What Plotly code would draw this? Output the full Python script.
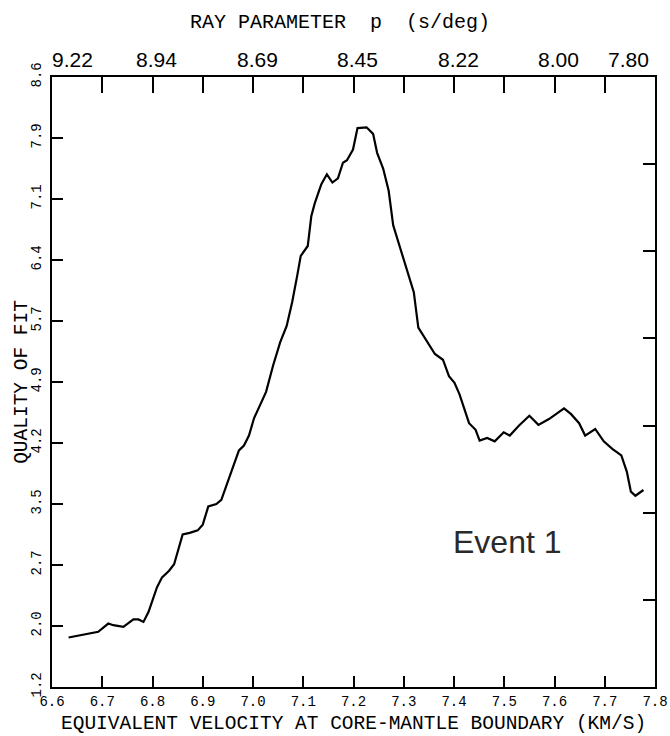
import plotly.graph_objects as go

# ---- data ----
velocity = [6.633, 6.649, 6.669, 6.692, 6.712, 6.722, 6.742, 6.762, 6.772, 6.782,
            6.792, 6.809, 6.819, 6.833, 6.843, 6.860, 6.874, 6.890, 6.900, 6.911,
            6.927, 6.937, 6.958, 6.972, 6.982, 6.992, 7.002, 7.012, 7.026, 7.040,
            7.054, 7.067, 7.078, 7.088, 7.095, 7.109, 7.116, 7.123, 7.136, 7.147,
            7.158, 7.169, 7.179, 7.187, 7.199, 7.208, 7.226, 7.239, 7.247, 7.259,
            7.270, 7.279, 7.295, 7.307, 7.320, 7.329, 7.346, 7.362, 7.378, 7.390,
            7.401, 7.411, 7.430, 7.443, 7.451, 7.466, 7.481, 7.499, 7.511, 7.529,
            7.550, 7.568, 7.589, 7.619, 7.633, 7.649, 7.661, 7.681, 7.698, 7.715,
            7.733, 7.744, 7.752, 7.761, 7.777]
quality = [1.80, 1.82, 1.84, 1.87, 1.97, 1.95, 1.93, 2.02, 2.02, 1.99,
           2.11, 2.41, 2.53, 2.61, 2.69, 3.05, 3.07, 3.10, 3.17, 3.39,
           3.42, 3.47, 3.83, 4.07, 4.13, 4.25, 4.46, 4.60, 4.78, 5.10,
           5.38, 5.58, 5.87, 6.19, 6.43, 6.55, 6.91, 7.07, 7.30, 7.42,
           7.32, 7.37, 7.56, 7.59, 7.72, 7.98, 7.99, 7.91, 7.68, 7.49,
           7.22, 6.80, 6.49, 6.23, 5.99, 5.56, 5.40, 5.24, 5.17, 4.97,
           4.89, 4.75, 4.40, 4.32, 4.19, 4.22, 4.18, 4.29, 4.25, 4.37,
           4.49, 4.38, 4.45, 4.58, 4.51, 4.40, 4.25, 4.33, 4.18, 4.09,
           4.01, 3.81, 3.57, 3.52, 3.59]

x_tick_vals = [6.6, 6.7, 6.8, 6.9, 7.0, 7.1, 7.2, 7.3, 7.4, 7.5, 7.6, 7.7, 7.8]
x_tick_text = ["6.6", "6.7", "6.8", "6.9", "7.0", "7.1", "7.2", "7.3", "7.4",
               "7.5", "7.6", "7.7", "7.8"]
x_inner_ticks = [6.7, 6.8, 6.9, 7.0, 7.1, 7.2, 7.3, 7.4, 7.5, 7.6, 7.7]

y_min, y_max = 1.2, 8.6
y_tick_text = ["1.2", "2.0", "2.7", "3.5", "4.2", "4.9", "5.7", "6.4", "7.1", "7.9", "8.6"]
y_tick_vals = [y_min + i * (y_max - y_min) / 10 for i in range(11)]

ray_param_pos = [6.6, 6.8, 7.0, 7.2, 7.4, 7.6, 7.8]
ray_param_text = ["9.22", "8.94", "8.69", "8.45", "8.22", "8.00", "7.80"]

right_ticks = [1, 2, 3, 4, 5, 6]

MONO = "Liberation Mono, DejaVu Sans Mono, monospace"
SANS = "Liberation Sans, Arial, sans-serif"

fig = go.Figure()
fig.add_trace(go.Scatter(x=velocity, y=quality, mode="lines",
                         line=dict(color="black", width=2.2),
                         showlegend=False, hoverinfo="skip"))
# invisible helper trace so the secondary axes are drawn
fig.add_trace(go.Scatter(x=[7.2], y=[3.5], xaxis="x2", yaxis="y2", mode="markers",
                         marker=dict(opacity=0), showlegend=False, hoverinfo="skip"))

fig.update_layout(
    width=670, height=736,
    margin=dict(l=52, r=15, t=77, b=49),
    paper_bgcolor="white", plot_bgcolor="white",
    xaxis=dict(range=[6.6, 7.8], tickmode="array", tickvals=x_tick_vals,
               ticktext=x_tick_text,
               ticks="inside", ticklen=11, tickwidth=2, tickcolor="black",
               showline=True, linecolor="black", linewidth=2,
               showgrid=False, zeroline=False,
               tickfont=dict(family=MONO, size=14, color="black"),
               automargin=False),
    xaxis2=dict(range=[6.6, 7.8], overlaying="x", side="top", anchor="y",
                tickmode="array", tickvals=x_inner_ticks,
                ticks="inside", ticklen=16, tickwidth=2,
                tickcolor="black", showticklabels=False,
                showline=True, linecolor="black", linewidth=2,
                showgrid=False, zeroline=False, automargin=False),
    yaxis=dict(range=[y_min, y_max], tickmode="array", tickvals=y_tick_vals,
               ticktext=y_tick_text,
               ticks="inside", ticklen=11, tickwidth=1.5, tickcolor="black",
               showline=True, linecolor="black", linewidth=2,
               showgrid=False, zeroline=False, tickangle=-90,
               tickfont=dict(family=MONO, size=14, color="black"),
               ticklabelstandoff=3, automargin=False),
    yaxis2=dict(range=[0, 7], overlaying="y", side="right", anchor="x",
                tickmode="array", tickvals=right_ticks, ticks="inside", ticklen=12,
                tickwidth=1.5, tickcolor="black", showticklabels=False,
                showline=True, linecolor="black", linewidth=2,
                showgrid=False, zeroline=False, automargin=False),
)

annotations = []
for pos, txt in zip(ray_param_pos, ray_param_text):
    if pos == ray_param_pos[0]:
        anchor, shift = "left", -2
    elif pos == ray_param_pos[-1]:
        anchor, shift = "right", -4
    else:
        anchor, shift = "center", 4
    annotations.append(dict(x=pos, y=1.0287, xref="x", yref="paper", text=txt,
                            showarrow=False, xanchor=anchor, yanchor="middle",
                            xshift=shift,
                            font=dict(family=SANS, size=21, color="black")))

annotations.append(dict(x=0.478, y=1.090, xref="paper", yref="paper",
                        text="RAY PARAMETER  p  (s/deg)", showarrow=False,
                        xanchor="center", yanchor="middle",
                        font=dict(family=MONO, size=20, color="black")))
annotations.append(dict(x=0.5, y=-0.061, xref="paper", yref="paper",
                        text="EQUIVALENT VELOCITY AT CORE-MANTLE BOUNDARY (KM/S)",
                        showarrow=False, xanchor="center", yanchor="middle",
                        font=dict(family=MONO, size=19.5, color="black")))
annotations.append(dict(x=-0.05, y=0.5, xref="paper", yref="paper",
                        text="QUALITY OF FIT", textangle=-90, showarrow=False,
                        xanchor="center", yanchor="middle",
                        font=dict(family=MONO, size=19.5, color="black")))
annotations.append(dict(x=7.507, y=2.96, xref="x", yref="y", text="Event 1",
                        showarrow=False, xanchor="center", yanchor="middle",
                        font=dict(family=SANS, size=32, color="#2a2a2a")))

fig.update_layout(annotations=annotations)

fig.write_html("out.html",
               config={"displayModeBar": False},
               post_script="document.body.style.margin='0px';"
                           "document.body.style.overflow='hidden';")
